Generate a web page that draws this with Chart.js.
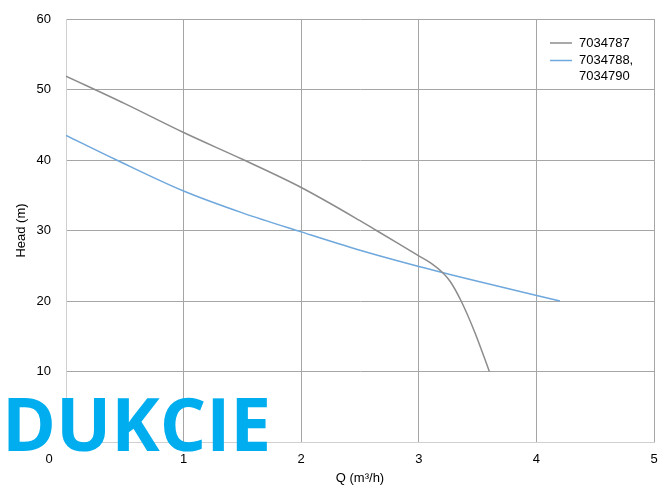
<!DOCTYPE html>
<html>
<head>
<meta charset="utf-8">
<script src="https://cdn.jsdelivr.net/npm/chart.js@4.4.1/dist/chart.umd.min.js"></script>
<style>
    html, body { margin: 0; padding: 0; background: #fff; }
    #wrap { position: relative; width: 668px; height: 486px; }
    #logo {
        position: absolute; left: 2px; top: 386px;
        font-family: "Open Sans", sans-serif; font-weight: 700;
        font-size: 73px; color: #00aeef;
        line-height: 1; pointer-events: none;
    }
</style>
</head>
<body>
<div id="wrap">
    <canvas id="myChart" width="668" height="486"></canvas>
    <div id="logo">DUKCIE</div>
</div>
<script>
// Pump curves
const seriesNames = ['7034787', ['7034788,', '7034790']];
const grayQ = [0, 0.5, 1, 1.5, 2, 2.5, 2.64, 3, 3.1, 3.21, 3.27, 3.36, 3.48, 3.6];
const grayH = [51.9, 48.0, 43.9, 40.1, 36.1, 31.4, 30.0, 26.4, 25.4, 23.9, 22.7, 20.0, 15.4, 10];
const blueQ = [0, 0.43, 1, 1.5, 2, 2.5, 3, 3.5, 4.2];
const blueH = [43.5, 40.0, 35.6, 32.5, 29.8, 27.2, 24.9, 22.8, 20.0];
const xTicks = [0, 1, 2, 3, 4, 5];
const yTicks = [0, 10, 20, 30, 40, 50, 60];
const lineColors = ['#8c8c8c', '#6fa8dc'];

function toPoints(xs, ys) {
    return xs.map(function (x, i) { return { x: x, y: ys[i] }; });
}

// legend inside the plot (top right) and the shared origin label
const extras = {
    id: 'extras',
    afterDraw: function (chart) {
        const ctx = chart.ctx;
        ctx.save();
        ctx.font = '13px "Liberation Sans", Arial, sans-serif';
        ctx.textBaseline = 'middle';
        ctx.fillStyle = '#000';
        let y = 43;
        seriesNames.forEach(function (name, i) {
            ctx.strokeStyle = lineColors[i];
            ctx.lineWidth = 1.5;
            ctx.beginPath();
            ctx.moveTo(550, y);
            ctx.lineTo(572, y);
            ctx.stroke();
            const lines = Array.isArray(name) ? name : [name];
            lines.forEach(function (t) {
                ctx.fillText(t, 579, y);
                y += 15.5;
            });
            y += 2;
        });
        // origin "0" sits below-left of the corner
        ctx.textAlign = 'center';
        ctx.fillText('0', chart.scales.x.getPixelForValue(0) - 17, chart.chartArea.bottom + 17);
        ctx.restore();
    }
};

document.addEventListener('DOMContentLoaded', function () {
    createChart();
});

function createChart() {
    const ctx = document.getElementById('myChart').getContext('2d');
    Chart.defaults.font.family = '"Liberation Sans", Arial, sans-serif';
    Chart.defaults.font.size = 13;
    Chart.defaults.color = '#000';

    new Chart(ctx, {
        type: 'line',
        data: {
            datasets: [{
                label: '7034787',
                data: toPoints(grayQ, grayH),
                borderColor: lineColors[0],
                borderWidth: 1.5,
                pointRadius: 0,
                cubicInterpolationMode: 'monotone'
            }, {
                label: '7034788, 7034790',
                data: toPoints(blueQ, blueH),
                borderColor: lineColors[1],
                borderWidth: 1.5,
                pointRadius: 0,
                cubicInterpolationMode: 'monotone'
            }]
        },
        options: {
            responsive: false,
            animation: false,
            layout: { padding: { top: 19, right: 14, left: 0, bottom: 0 } },
            plugins: {
                legend: { display: false },
                tooltip: { enabled: false }
            },
            scales: {
                x: {
                    type: 'linear',
                    min: 0, max: 5,
                    afterBuildTicks: function (s) { s.ticks = xTicks.map(function (v) { return { value: v }; }); },
                    afterFit: function (s) { s.height = 44; s.paddingLeft = 0; s.paddingRight = 0; },
                    grid: { color: '#a6a6a6', drawTicks: false },
                    border: { color: '#d0d0d0' },
                    ticks: { padding: 10, callback: function (v) { return v === 0 ? '' : v; } },
                    title: { display: true, text: 'Q (m³/h)', padding: { top: 3, bottom: 0 } }
                },
                y: {
                    min: 0, max: 60,
                    afterBuildTicks: function (s) { s.ticks = yTicks.map(function (v) { return { value: v }; }); },
                    afterFit: function (s) { s.width = 66; s.paddingTop = 0; s.paddingBottom = 0; },
                    grid: { color: '#a6a6a6', drawTicks: false },
                    border: { color: '#d0d0d0' },
                    ticks: { padding: 15, callback: function (v) { return v === 0 ? '' : v; } },
                    title: { display: true, text: 'Head (m)', padding: { top: 14, bottom: 0 } }
                }
            }
        },
        plugins: [extras]
    });
}
</script>
</body>
</html>
